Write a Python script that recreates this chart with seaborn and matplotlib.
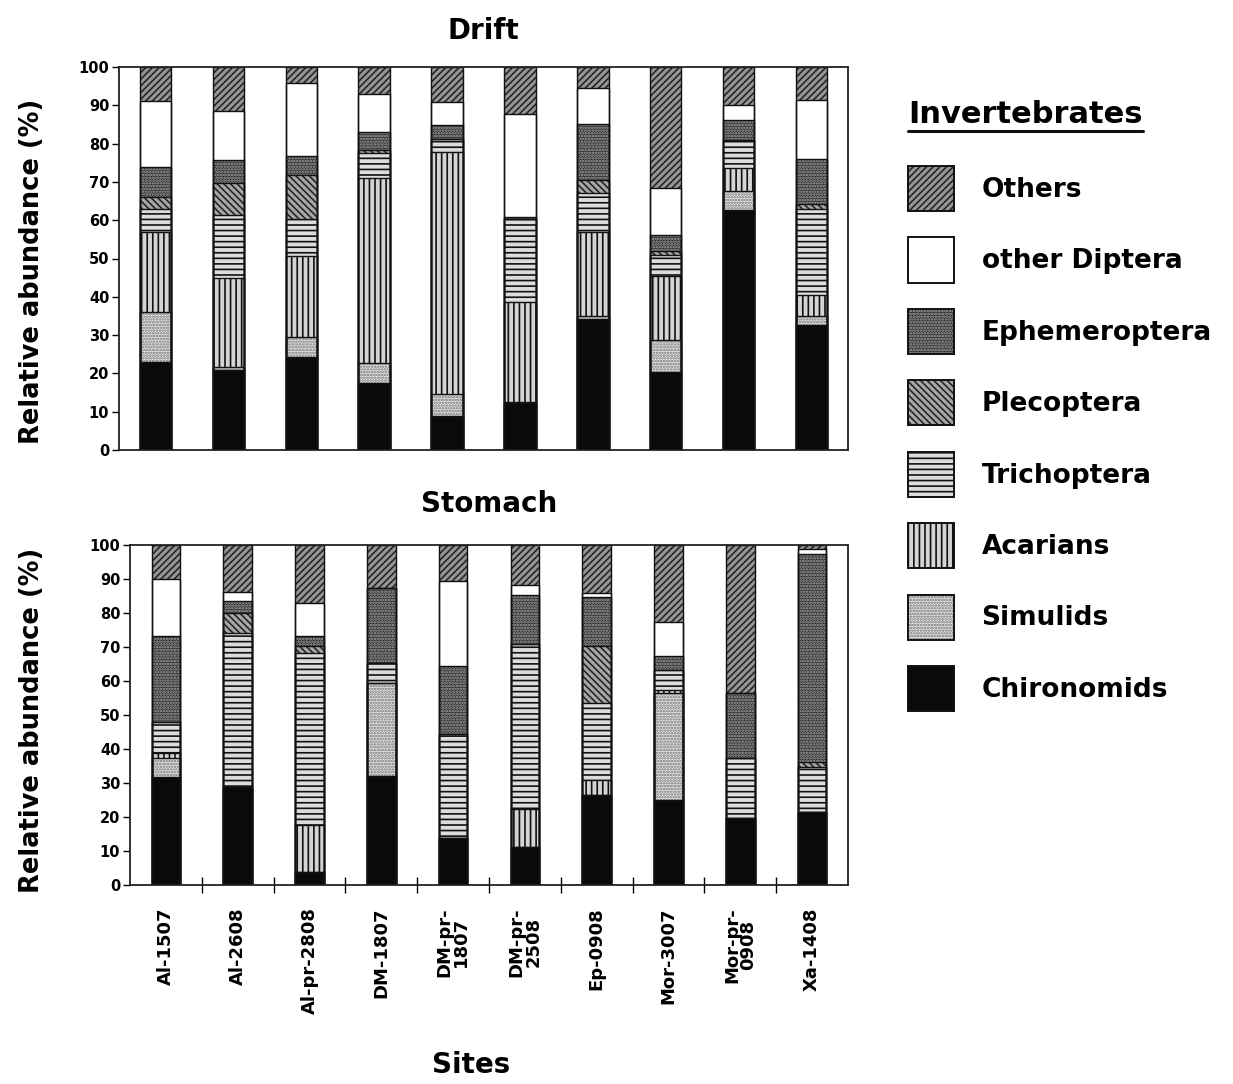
import matplotlib
matplotlib.use("Agg")
import numpy as np
import pandas as pd
import seaborn as sns
import matplotlib.pyplot as plt
from matplotlib.patches import Patch
from matplotlib.lines import Line2D
from matplotlib.legend_handler import HandlerTuple

# ---------------- data ----------------
sites = ["Al-1507", "Al-2608", "Al-pr-2808", "DM-1807", "DM-pr-1807",
         "DM-pr-2508", "Ep-0908", "Mor-3007", "Mor-pr-0908", "Xa-1408"]
site_labels = ["Al-1507", "Al-2608", "Al-pr-2808", "DM-1807", "DM-pr-\n1807",
               "DM-pr-\n2508", "Ep-0908", "Mor-3007", "Mor-pr-\n0908", "Xa-1408"]
groups = ["Chironomids", "Simulids", "Acarians", "Trichoptera",
          "Plecoptera", "Ephemeroptera", "other Diptera", "Others"]

drift_chironomids = [23.0, 21.0, 24.3, 17.6, 8.9, 12.2, 34.1, 20.3, 62.6, 32.6]
drift_simulids = [13.0, 0.7, 5.3, 5.2, 5.7, 0.4, 0.9, 8.4, 5.0, 2.4]
drift_acarians = [21.0, 23.3, 21.0, 48.3, 63.2, 26.1, 22.0, 16.7, 5.9, 5.4]
drift_trichoptera = [6.0, 16.3, 9.6, 6.5, 3.5, 21.7, 10.0, 5.5, 7.5, 22.6]
drift_plecoptera = [3.0, 8.3, 11.5, 0.8, 0.0, 0.0, 3.4, 1.1, 0.0, 1.3]
drift_ephemeroptera = [8.0, 6.1, 5.1, 4.6, 3.5, 0.5, 14.6, 4.1, 5.1, 11.8]
drift_other_diptera = [17.0, 12.8, 18.9, 10.0, 6.1, 26.9, 9.6, 12.2, 3.9, 15.4]
drift_others = [9.0, 11.5, 4.3, 7.0, 9.1, 12.2, 5.4, 31.7, 10.0, 8.5]

stomach_chironomids = [31.7, 28.7, 3.9, 32.2, 13.9, 11.3, 26.5, 25.0, 19.6, 21.6]
stomach_simulids = [5.8, 0.0, 0.0, 27.3, 0.0, 0.0, 0.0, 31.4, 0.0, 0.0]
stomach_acarians = [1.2, 0.0, 13.7, 0.0, 0.0, 11.2, 4.4, 1.0, 0.0, 0.0]
stomach_trichoptera = [9.3, 45.5, 50.5, 5.7, 30.4, 48.3, 22.5, 5.8, 17.7, 13.2]
stomach_plecoptera = [0.0, 5.7, 2.2, 0.0, 0.0, 0.0, 16.9, 0.0, 0.0, 1.5]
stomach_ephemeroptera = [25.3, 3.6, 3.0, 22.3, 20.2, 14.4, 14.5, 4.2, 19.1, 61.2]
stomach_other_diptera = [16.6, 2.6, 9.5, 0.0, 24.9, 3.0, 1.2, 10.1, 0.0, 1.3]
stomach_others = [10.1, 13.9, 17.2, 12.5, 10.6, 11.8, 14.0, 22.5, 43.6, 1.2]

drift = [drift_chironomids, drift_simulids, drift_acarians, drift_trichoptera,
         drift_plecoptera, drift_ephemeroptera, drift_other_diptera, drift_others]
stomach = [stomach_chironomids, stomach_simulids, stomach_acarians, stomach_trichoptera,
           stomach_plecoptera, stomach_ephemeroptera, stomach_other_diptera, stomach_others]

# ---------------- style ----------------
sns.set_theme(style="ticks")
plt.rcParams['font.family'] = ['DejaVu Sans']
plt.rcParams['font.weight'] = 'bold'
plt.rcParams['text.color'] = 'black'
plt.rcParams['axes.labelcolor'] = 'black'
plt.rcParams['xtick.color'] = 'black'
plt.rcParams['ytick.color'] = 'black'
plt.rcParams['hatch.linewidth'] = 1.2
plt.rcParams['axes.linewidth'] = 1.3

# face colour, hatch, hatch colour
styles = {
    "Chironomids":   ("#0a0a0a", "", "#0a0a0a"),
    "Simulids":      ("#e6e6e6", "......", "#707070"),
    "Acarians":      ("#d4d4d4", "|||", "#111111"),
    "Trichoptera":   ("#dcdcdc", "---", "#111111"),
    "Plecoptera":    ("#a8a8a8", "\\\\\\\\\\", "#262626"),
    "Ephemeroptera": ("#2e2e2e", "......", "#a8a8a8"),
    "other Diptera": ("#ffffff", "", "#ffffff"),
    "Others":        ("#969696", "/////", "#262626"),
}
EDGE = "#111111"

W, H = 1233, 1084
fig = plt.figure(figsize=(W / 100, H / 100), dpi=100)
ax1 = fig.add_axes([119 / W, 1 - 450 / H, 729 / W, 383 / H])
ax2 = fig.add_axes([130 / W, 1 - 885 / H, 718 / W, 340 / H])


def stacked(ax, data, width):
    df = pd.DataFrame(np.array(data).T, columns=groups)
    df["site"] = sites
    cum = df[groups].cumsum(axis=1)
    # filled, hatched layers (top cumulative first, lower layers drawn over)
    for g in reversed(groups):
        face, hatch, hc = styles[g]
        sns.barplot(x=df["site"], y=cum[g], ax=ax, color=face, width=width,
                    saturation=1, errorbar=None, order=sites,
                    edgecolor=hc, linewidth=0, hatch=hatch or None)
    # black outlines marking every segment boundary
    for g in reversed(groups):
        sns.barplot(x=df["site"], y=cum[g], ax=ax, fill=False, width=width,
                    errorbar=None, order=sites, edgecolor=EDGE, linewidth=1.0)
    ax.set_xlim(-0.5, len(sites) - 0.5)
    ax.set_ylim(0, 100)
    ax.set_yticks(np.arange(0, 101, 10))
    ax.tick_params(axis="y", labelsize=10.5, length=5, width=1, direction="out", pad=2)
    for s in ax.spines.values():
        s.set_visible(True)
        s.set_color("#222222")
        s.set_linewidth(1.3)
    for t in ax.get_yticklabels():
        t.set_fontweight("bold")


stacked(ax1, drift, 0.43)
stacked(ax2, stomach, 0.40)

# top panel
ax1.set_xlabel("")
ax1.set_xticks([])
ax1.set_title("Drift", fontsize=20, fontweight="bold", pad=20)
ax1.set_ylabel("Relative abundance (%)", fontsize=18.5, fontweight="bold")
ax1.yaxis.set_label_coords(-0.101, 0.467)

# bottom panel
ax2.set_xlabel("")
ax2.set_xticks(range(len(sites)))
ax2.set_xticklabels(site_labels, rotation=90, fontsize=13, fontweight="bold",
                    linespacing=0.9, ha="center", va="top")
ax2.tick_params(axis="x", which="major", length=0, pad=16)
ax2.set_xticks(np.arange(0.5, len(sites) - 1, 1.0), minor=True)
ax2.tick_params(axis="x", which="minor", length=11, width=1, direction="inout")
ax2.set_title("Stomach", fontsize=20, fontweight="bold", pad=24)
ax2.set_ylabel("Relative abundance (%)", fontsize=18.5, fontweight="bold")
ax2.yaxis.set_label_coords(-0.118, 0.485)

fig.text(471 / W, 1 - 1065 / H, "Sites", fontsize=20, fontweight="bold",
         ha="center", va="center")

# legend
handles = []
for g in reversed(groups):
    face, hatch, hc = styles[g]
    fill = Patch(facecolor=face, hatch=hatch or None, edgecolor=hc, linewidth=0)
    outline = Patch(facecolor="none", edgecolor=EDGE, linewidth=1.4)
    handles.append((fill, outline))
leg = fig.legend(handles, list(reversed(groups)), loc="upper left",
                 bbox_to_anchor=(908 / W, 1 - 166 / H), frameon=False,
                 prop={"size": 19, "weight": "bold"}, handlelength=1.74,
                 handleheight=2.25, labelspacing=1.0, handletextpad=1.05,
                 borderpad=0, borderaxespad=0,
                 handler_map={tuple: HandlerTuple(ndivide=1, pad=0)})

title = fig.text(908 / W, 1 - 123 / H, "Invertebrates", fontsize=22,
                 fontweight="bold", ha="left", va="baseline")
fig.canvas.draw()
bb = title.get_window_extent()
fig.add_artist(Line2D([bb.x0 / W, bb.x1 / W], [1 - 131 / H, 1 - 131 / H],
                      color="#111111", linewidth=2.2, transform=fig.transFigure))

fig.savefig("out.png", dpi=100)
